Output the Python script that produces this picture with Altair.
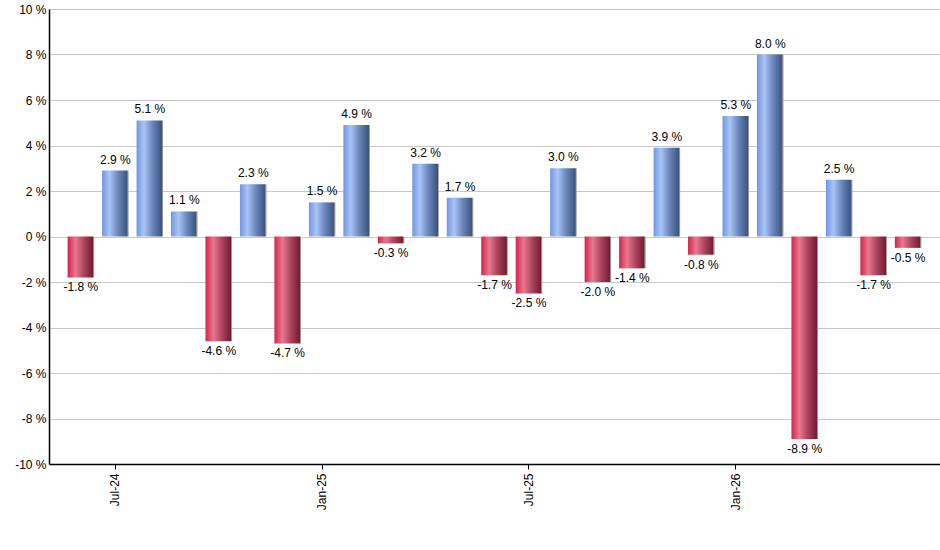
import altair as alt
import pandas as pd

# Monthly returns, Jun-24 through Jun-26
months = [
    "Jun-24", "Jul-24", "Aug-24", "Sep-24", "Oct-24", "Nov-24", "Dec-24",
    "Jan-25", "Feb-25", "Mar-25", "Apr-25", "May-25", "Jun-25",
    "Jul-25", "Aug-25", "Sep-25", "Oct-25", "Nov-25", "Dec-25",
    "Jan-26", "Feb-26", "Mar-26", "Apr-26", "May-26", "Jun-26",
]
returns = [
    -1.8, 2.9, 5.1, 1.1, -4.6, 2.3, -4.7,
    1.5, 4.9, -0.3, 3.2, 1.7, -1.7,
    -2.5, 3.0, -2.0, -1.4, 3.9, -0.8,
    5.3, 8.0, -8.9, 2.5, -1.7, -0.5,
]
tick_months = ["Jul-24", "Jan-25", "Jul-25", "Jan-26"]

df = pd.DataFrame({"month": months, "ret": returns})
df["lbl"] = [f"{v:.1f} %" for v in returns]

FONT = "Liberation Sans"

blue_grad = alt.Gradient(
    gradient="linear", x1=0, x2=1, y1=0, y2=0,
    stops=[
        alt.GradientStop(offset=0.0, color="#7196e2"),
        alt.GradientStop(offset=0.28, color="#a9c5f6"),
        alt.GradientStop(offset=0.6, color="#6b86bb"),
        alt.GradientStop(offset=0.95, color="#3b547f"),
        alt.GradientStop(offset=0.96, color="#8c8c8c"),
        alt.GradientStop(offset=1.0, color="#a0a0a0"),
    ],
)
red_grad = alt.Gradient(
    gradient="linear", x1=0, x2=1, y1=0, y2=0,
    stops=[
        alt.GradientStop(offset=0.0, color="#d4234c"),
        alt.GradientStop(offset=0.3, color="#e9788f"),
        alt.GradientStop(offset=0.6, color="#b04560"),
        alt.GradientStop(offset=0.95, color="#731c32"),
        alt.GradientStop(offset=0.96, color="#8c8c8c"),
        alt.GradientStop(offset=1.0, color="#a0a0a0"),
    ],
)

x_enc = alt.X(
    "month:N",
    sort=months,
    scale=alt.Scale(paddingInner=0.23, paddingOuter=0.54),
    axis=alt.Axis(
        title=None,
        values=tick_months,
        labelAngle=270,
        labelFont=FONT,
        labelFontSize=12,
        labelColor="#000000",
        labelPadding=4,
        tickSize=5,
        tickColor="#000000",
        domainColor="#000000",
        domainWidth=1.5,
        grid=False,
    ),
)
y_enc = alt.Y(
    "ret:Q",
    scale=alt.Scale(domain=[-10, 10], nice=False, zero=True),
    axis=alt.Axis(
        title=None,
        values=list(range(-10, 11, 2)),
        labelExpr="datum.value + ' %'",
        labelFont=FONT,
        labelFontSize=12,
        labelColor="#000000",
        labelPadding=3,
        ticks=False,
        domainColor="#000000",
        domainWidth=1.5,
        gridColor="#c8c8c8",
        gridWidth=1,
    ),
)

base = alt.Chart(df)

pos_bars = base.transform_filter("datum.ret >= 0").mark_bar(
    color=blue_grad
).encode(x=x_enc, y=y_enc, y2=alt.datum(0))

neg_bars = base.transform_filter("datum.ret < 0").mark_bar(
    color=red_grad
).encode(x=x_enc, y=y_enc, y2=alt.datum(0))

pos_text = base.transform_filter("datum.ret >= 0").mark_text(
    font=FONT, fontSize=12, color="#000000", baseline="bottom", dy=-4
).encode(x=alt.X("month:N", sort=months), y="ret:Q", text="lbl:N")

neg_text = base.transform_filter("datum.ret < 0").mark_text(
    font=FONT, fontSize=12, color="#000000", baseline="top", dy=5
).encode(x=alt.X("month:N", sort=months), y="ret:Q", text="lbl:N")

chart = (
    alt.layer(pos_bars, neg_bars, pos_text, neg_text)
    .properties(
        width=891,
        height=455,
        autosize=alt.AutoSizeParams(type="none"),
        padding={"left": 49, "top": 9, "right": 0, "bottom": 86},
        background="#ffffff",
    )
    .configure_view(stroke=None)
)

chart.save("out.html", embed_options={"renderer": "svg", "actions": False})
